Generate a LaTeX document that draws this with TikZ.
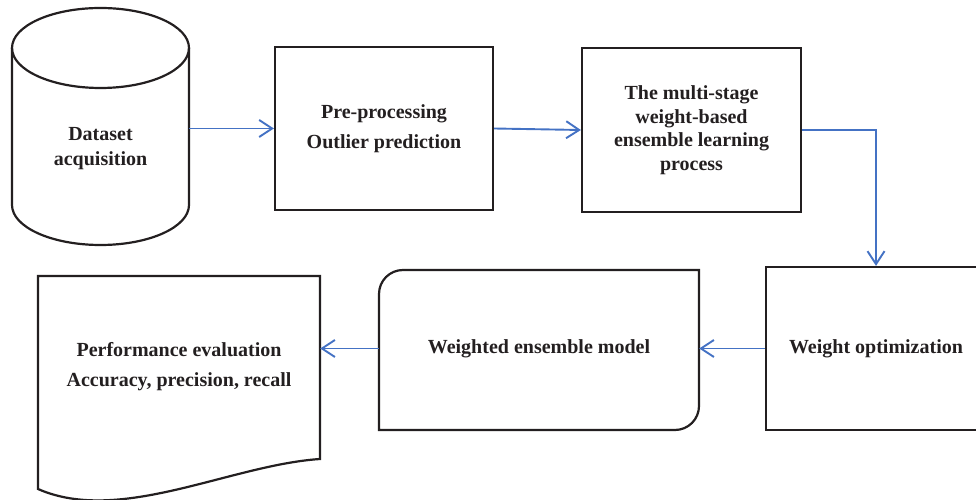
\documentclass[tikz,border=0pt]{standalone}
\usepackage{fontspec}
\setmainfont{Liberation Serif}
\usepackage{xcolor}
\usetikzlibrary{arrows.meta,calc}
\definecolor{flowblue}{RGB}{68,114,196}
\definecolor{inkblack}{RGB}{35,31,32}

\begin{document}
\begin{tikzpicture}[x=1pt, y=1pt,
    txt/.style={align=center, text=inkblack, font=\fontsize{20}{23.5}\selectfont\bfseries},
    box/.style={txt, draw=inkblack, line width=2.2pt, inner sep=0pt},
    frame/.style={draw=inkblack, line width=2.2pt},
    flow/.style={draw=flowblue, line width=1.9pt, -{Straight Barb[length=13pt, width=17pt]}}]
    \clip (0,0) rectangle (976,500);

    % Top row
    \draw[frame] (12,452) -- (12,295) arc[start angle=180, end angle=360, x radius=88.5, y radius=40] -- (189,452);
    \draw[frame] (100.5,452) ellipse[x radius=88.5, y radius=40];
    \node[txt, minimum width=177pt] (data) at (100.5,351) {Dataset\\[1.5pt]acquisition};
    \node[box, minimum width=218pt, minimum height=163pt] (pre) at (384,371.5) {Pre-processing\\[6pt]Outlier prediction};
    \node[box, minimum width=219pt, minimum height=164pt] (ens) at (691.5,370) {The multi-stage\\weight-based\\ensemble learning\\process};

    % Bottom row
    \node[box, minimum width=220pt, minimum height=163pt] (wopt) at (876,151.5) {Weight optimization};
    \node[txt, minimum width=320pt] (wem) at (539,151) {Weighted ensemble model};
    \draw[frame] (379,70) -- (379,206) arc[start angle=180, end angle=90, radius=24] -- (699,230)
        -- (699,94) arc[start angle=0, end angle=-90, radius=24] -- cycle;
    \node[txt, minimum width=282pt] (perf) at (179,133.5) {Performance evaluation\\[7pt]Accuracy, precision, recall};
    \draw[frame] (38,224) -- (320,224) -- (320,41) .. controls (230,35) and (120,-25) .. (38,11) -- cycle;

    % Connectors
    \draw[flow] (pre.west -| data.east) -- (pre.west);
    \draw[flow] (pre.east) -- (ens.west);
    \draw[flow] (ens.east) -| (wopt.north);
    \draw[flow] (wopt.west) -- (wopt.west -| wem.east);
    \draw[flow] (wem.west |- wopt.west) -- (wopt.west -| perf.east);
\end{tikzpicture}
\end{document}
